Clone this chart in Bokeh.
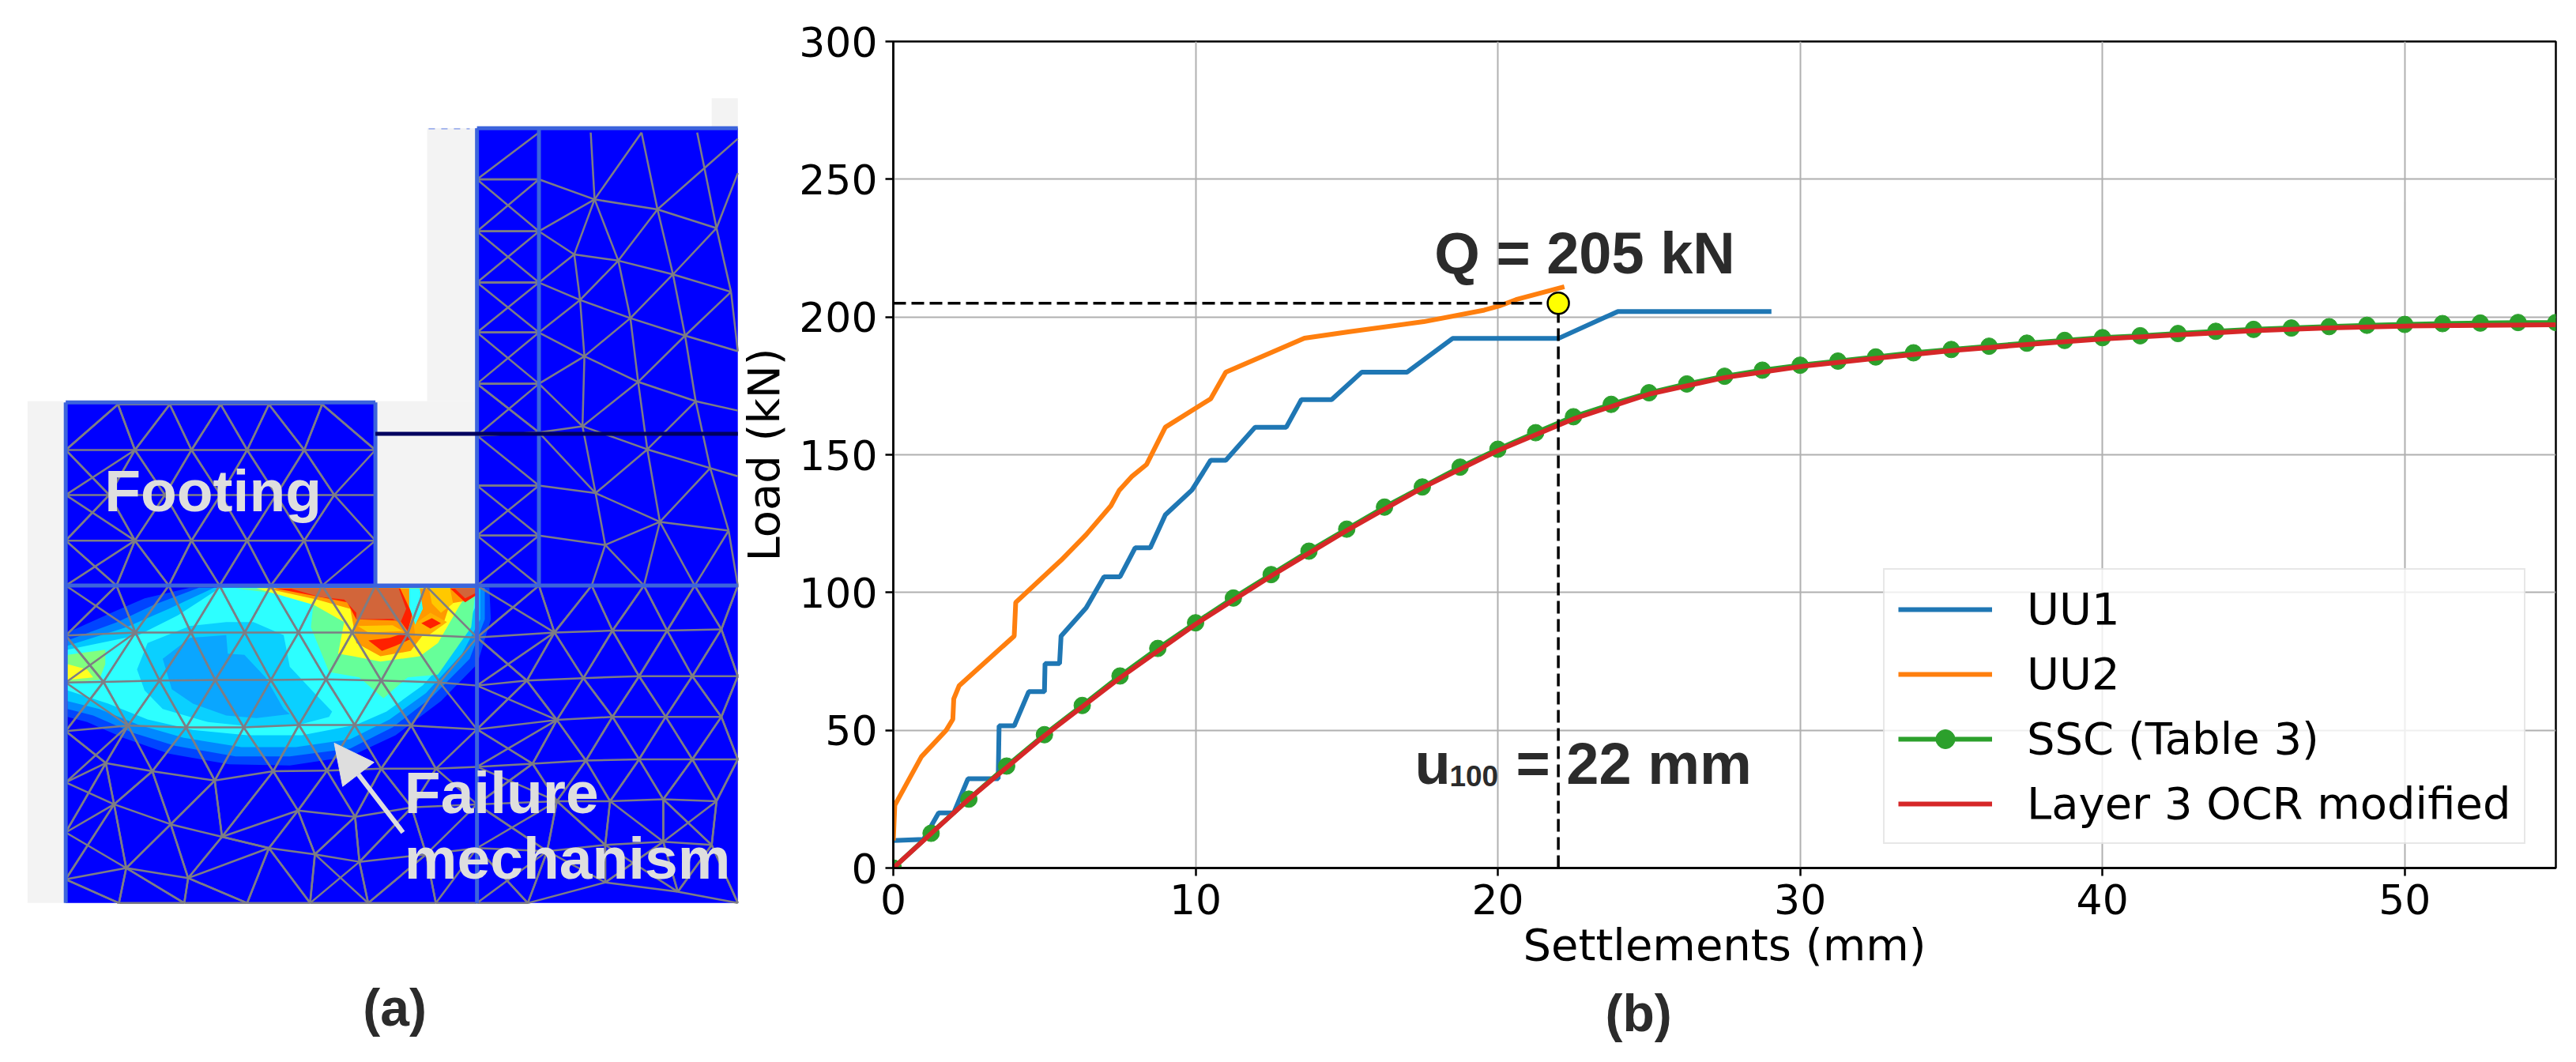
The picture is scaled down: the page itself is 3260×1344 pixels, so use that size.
from bokeh.plotting import figure
from bokeh.models import (Range1d, Legend, LegendItem, Label, Arrow, NormalHead, FixedTicker, Title)
from bokeh.embed import file_html
from bokeh.resources import INLINE

# ---------- panel (b) data ----------
UU1_X = [0,1,1.5,2,2.47,3.47,3.5,4,4.48,5,5.02,5.5,5.55,6.38,6.97,7.5,8,8.5,9,9.88,10.5,11,11.97,13,13.5,14.5,15.5,17,18.5,22,23.97,29.05]
UU1_Y = [10,10.4,20,20,32.4,32.4,51.6,51.6,64,64,74.2,74.2,84.2,94.4,105.7,105.7,116.2,116.2,128.2,137.2,148,148,160,160,170,170,180,180,192.2,192.2,202,202]
UU2_X = [0,0.05,0.93,1.75,1.97,2,2.18,4,4.05,5.55,6.38,7.2,7.47,7.88,8.38,9,10.5,11,13.6,15.05,17.55,19.55,20.05,20.6,22.2]
UU2_Y = [10,22.8,40.4,50,54,61.4,66.2,84.2,96.4,111.7,121,131.5,137,142,146.5,160,170.3,180,192.3,194.6,198.3,202.5,204,206.3,211]
SSC_X = [0,1.25,2.5,3.75,5,6.25,7.5,8.75,10,11.25,12.5,13.75,15,16.25,17.5,18.75,20,21.25,22.5,23.75,25,26.25,27.5,28.75,30,31.25,32.5,33.75,35,36.25,37.5,38.75,40,41.25,42.5,43.75,45,46.25,47.5,48.75,50,51.25,52.5,53.75,55]
SSC_Y = [0,12.6,25,37,48.4,59,69.7,79.7,89,98,106.5,115,123,131,138.3,145.5,152,158,163.8,168.3,172.5,175.7,178.5,180.7,182.5,184,185.5,187,188.2,189.4,190.5,191.5,192.5,193.2,194,194.8,195.5,196,196.5,197,197.3,197.6,197.8,198,198]
OCR_X = [0,2.5,5,7.5,10,12.5,15,17.5,20,22.5,25,27.5,30,32.5,35,37.5,40,42.5,45,47.5,50,52.5,55]
OCR_Y = [0,25,48,69,88.5,106,122.5,138,151.5,163,172,178,182,185,187.8,190,192,193.5,195,196,196.7,197,197.2]
LIMIT_LOAD = 205
LIMIT_SETTLEMENT = 22
X_TICKS = [0,10,20,30,40,50]
Y_TICKS = [0,50,100,150,200,250,300]
SERIES_NAMES = ["UU1","UU2","SSC (Table 3)","Layer 3 OCR modified"]

# ---------- panel (a) schematic, in its own drawing units ----------
GRAY_BLOCKS = [([56,130,130,56],[515,515,1318,1318]),
               ([775,985,985,775],[515,515,810,810]),
               ([882,985,985,882],[78,78,515,515]),
               ([1470,1524,1524,1470],[30,30,78,78])]
BLUE_BLOCKS = [([135,775,775,135],[517,517,810,810]),
               ([135,1524,1524,135],[810,810,1318,1318]),
               ([985,1524,1524,985],[78,78,810,810])]
Z4_FIELDS = [
 ("#0044ff",[(470,130),(320,170),(200,230),(65,300),(65,620),(130,640),(250,700),(400,760),(600,800),(800,805),(1000,770),(1150,690),(1300,560),(1420,420),(1465,250),(1460,130)]),
 ("#0088ff",[(500,130),(350,195),(230,260),(65,330),(65,590),(150,615),(280,680),(420,730),(620,770),(800,770),(1000,740),(1140,660),(1270,545),(1395,400),(1445,250),(1445,130)]),
 ("#00c8ff",[(550,130),(400,210),(260,280),(65,350),(65,560),(170,590),(300,650),(450,700),(640,735),(820,735),(1000,705),(1130,630),(1250,530),(1370,380),(1430,250),(1430,130)]),
 ("#2dffff",[(570,130),(430,235),(300,310),(65,365),(65,520),(200,570),(330,630),(480,670),(660,690),(840,690),(1020,650),(1120,600),(1240,500),(1350,360),(1415,200),(1415,130)]),
 ("#0ad0ff",[(590,260),(470,275),(330,340),(295,440),(320,520),(380,590),(530,640),(700,660),(830,650),(930,620),(940,600),(890,540),(800,430),(780,310),(680,260)]),
 ("#0aa6ff",[(380,400),(470,320),(590,310),(595,380),(650,385),(720,470),(780,590),(800,610),(690,625),(590,615),(480,570),(410,515)]),
 ("#80ff80",[(65,385),(190,365),(190,420),(170,480),(65,490)]),
 ("#ffff20",[(65,420),(130,440),(150,470),(65,480)]),
 ("#66ff99",[(620,132),(880,170),(870,280),(930,450),(1030,470),(1110,550),(1190,470),(1290,460),(1400,280),(1415,132)]),
 ("#ffff20",[(690,132),(880,195),(980,260),(960,380),(1010,390),(1100,410),(1230,390),(1290,340),(1360,200),(1400,132)]),
 ("#ff9900",[(720,132),(890,175),(1000,210),(1010,270),(1020,340),(1100,390),(1200,370),(1240,310),(1310,260),(1330,190),(1380,180),(1415,132)]),
 ("#ff2000",[(750,132),(900,165),(990,185),(1020,250),(1165,255),(1190,295),(1205,230),(1165,132)]),
 ("#ffcc00",[(1025,275),(1140,272),(1175,295),(1060,300)]),
 ("#ff2000",[(1060,330),(1130,320),(1185,300),(1200,325),(1150,350),(1105,370)]),
 ("#ffb000",[(1210,270),(1265,225),(1320,260),(1260,310),(1215,315)]),
 ("#ff2000",[(1235,265),(1270,245),(1300,265),(1265,285)]),
 ("#ff2000",[(1330,132),(1380,185),(1415,160),(1415,132)]),
 ("#d2653a",[(800,132),(900,165),(980,175),(1020,225),(1020,250),(1140,248),(1165,265),(1185,210),(1160,132)]),
 ("#d2653a",[(1345,132),(1380,170),(1415,150),(1415,132)]),
 ("#2dffff",[(1195,132),(1230,132),(1240,210),(1215,270),(1195,200)]),
 ("#ffc800",[(1260,132),(1330,132),(1340,190),(1300,225),(1270,190)]),
]
FOOTING_ROWS = [
 [(243,520),(350,520),(455,520),(555,520),(665,520)],
 [(135,593),(278,593),(395,593),(510,593),(628,593),(775,593)],
 [(135,665),(225,665),(340,665),(455,665),(570,665),(690,665),(775,665)],
 [(135,738),(278,738),(395,738),(510,738),(628,738),(775,738)],
 [(135,810),(240,810),(348,810),(453,810),(559,810),(665,810),(775,810)],
]
SOIL_ROWS = [
 [(135,810),(240,810),(348,810),(453,810),(559,810),(665,810),(775,810),(879,810),(985,810),(1113,810),(1222,810),(1330,810),(1435,810),(1524,810)],
 [(135,890),(279,885),(394,885),(505,885),(616,885),(727,885),(841,888),(985,893),(1145,885),(1265,882),(1378,882),(1490,880)],
 [(135,965),(213,964),(329,962),(444,961),(559,961),(673,960),(787,962),(908,965),(985,970),(1088,962),(1205,958),(1320,955),(1430,955),(1524,955)],
 [(135,1043),(264,1034),(384,1037),(503,1037),(617,1033),(732,1033),(849,1034),(985,1040),(1150,1025),(1265,1020),(1375,1020),(1490,1020)],
 [(135,1125),(218,1094),(314,1107),(443,1122),(564,1107),(675,1106),(787,1103),(900,1103),(985,1100),(1100,1095),(1210,1090),(1320,1088),(1430,1088),(1524,1088)],
 [(135,1205),(235,1160),(352,1192),(458,1212),(615,1170),(733,1180),(850,1165),(985,1160),(1150,1155),(1260,1155),(1370,1152),(1480,1155)],
 [(135,1280),(260,1262),(388,1278),(555,1230),(650,1240),(742,1252),(880,1240),(985,1230),(1130,1235),(1250,1225),(1370,1220),(1470,1225)],
 [(245,1318),(380,1318),(510,1318),(640,1318),(760,1318),(900,1318),(985,1318),(1090,1318),(1250,1285),(1400,1300),(1524,1318)],
]
COLUMN_LEFT = [(985,160),(985,243),(985,325),(985,405),(985,487),(985,570),(985,650),(985,730),(985,810)]
COLUMN_RIGHT = [(1113,85),(1113,160),(1113,243),(1113,325),(1113,405),(1113,487),(1113,565),(1113,650),(1113,730),(1113,810)]
N = dict(A=(1228,192),B=(1358,208),C=(1480,238),D=(1455,142),E=(1186,280),F=(1277,290),G=(1390,312),H=(1510,340),
         I=(1198,353),J=(1302,382),K=(1415,410),L=(1207,443),M=(1318,484),O=(1437,515),P=(1203,555),R=(1337,592),S=(1467,622),
         T=(1230,662),U=(1363,708),V=(1505,722),W=(1250,745),
         a=(1113,85),b=(1220,85),c=(1325,85),d=(1440,85),e=(1524,95),f=(1113,160),g=(1113,243),h=(1113,325),i=(1113,405),j=(1113,487),
         k=(1113,565),l=(1113,650),m=(1113,730),n=(1222,810),o=(1330,810),p=(1435,810),q=(1524,810),
         r=(1524,150),s=(1524,435),t=(1524,530),u=(1524,635))
EDGES = "fA Ab Ac gA gE AE AF AB Bc BD BF BG BC Dd De DC Cr CG CH EF Eh EI FI FJ FG GJ GK GH Hs HK Ih Ii IJ IL JL JM JK KM KO Ks Li Lj LM LP MP MR MO OR OS Ot Pj Pk PR PT RT RU RS SU SV Su Tk Tl TU TW UW UV Uo Up Wm Wn Wo Vp Vq".split()
WALLS = [((135,517),(135,1318)),((775,517),(775,810)),((985,78),(985,1318)),((1113,78),(1113,810)),((135,810),(1524,810)),((135,517),(775,517)),((985,78),(1524,78))]

BOLD = "Liberation Sans"
INK = "#2b2b2b"
LIGHT = "#dedede"

# ---------- panel (a) ----------
a = figure(width=938, height=1344, output_backend="svg", toolbar_location=None,
           x_range=Range1d(0,1531.8), y_range=Range1d(1573,-126.45),
           min_border=0, x_axis_type=None, y_axis_type=None, outline_line_color=None)
a.grid.visible = False
a.patches([b[0] for b in GRAY_BLOCKS],[b[1] for b in GRAY_BLOCKS],fill_color="#f3f3f3",line_color=None)
a.patches([b[0] for b in BLUE_BLOCKS],[b[1] for b in BLUE_BLOCKS],fill_color="#0000ff",line_color=None)
for col,pts in Z4_FIELDS:
    a.patch([98+0.625*x for x,_ in pts],[758.7+0.4215*y for _,y in pts],fill_color=col,line_color=None)

def links(r1,r2,axis=0):
    out=[]
    for s,t in ((r1,r2),(r2,r1)):
        for n in s:
            lo=[m for m in t if m[axis]<=n[axis]]
            hi=[m for m in t if m[axis]>n[axis]]
            if lo: out.append((n,max(lo,key=lambda m:m[axis])))
            if hi: out.append((n,min(hi,key=lambda m:m[axis])))
    return out
segs=[]
for rows in (FOOTING_ROWS,SOIL_ROWS):
    for i,r in enumerate(rows):
        segs+=list(zip(r[:-1],r[1:]))
        if i+1<len(rows): segs+=links(r,rows[i+1])
segs+=links(COLUMN_LEFT,COLUMN_RIGHT,1)
segs+=[(N[e[0]],N[e[1]]) for e in EDGES]
segs+=[((x0,y),(1113,y)) for x0,y in ((985,243),(985,325),(985,405),(985,487))]
a.multi_line([[s[0][0],s[1][0]] for s in segs],[[s[0][1],s[1][1]] for s in segs],line_color="#7d7d85",line_width=2.5)
a.multi_line([[s[0][0],s[1][0]] for s in WALLS],[[s[0][1],s[1][1]] for s in WALLS],line_color="#3c64dc",line_width=5)
a.line([775,1524],[567,567],line_color="#00005f",line_width=5)
a.line([885,970],[79,79],line_color="#a8b8ee",line_width=2,line_dash=[8,8])
a.add_layout(Arrow(end=NormalHead(size=50,fill_color=LIGHT,line_color=LIGHT),x_start=832,y_start=1205,x_end=690,y_end=1062,line_color=LIGHT,line_width=6))
for txt,x,y in (("Footing",215,658),("Failure",835,1141),("mechanism",835,1246)):
    a.add_layout(Label(x=x,y=y,text=txt,text_font=BOLD,text_font_style="bold",text_font_size="75px",text_color=LIGHT,text_baseline="alphabetic"))
a.add_layout(Label(x=815,y=1485,text="(a)",text_font=BOLD,text_font_style="bold",text_font_size="66px",text_color=INK,text_align="center",text_baseline="middle"))

# ---------- panel (b) ----------
p = figure(width=2360, height=1344, output_backend="svg", toolbar_location=None,
           x_range=Range1d(0,55), y_range=Range1d(0,300),
           min_border_left=230, min_border_right=26, min_border_top=52, min_border_bottom=246,
           x_axis_label="Settlements (mm)", y_axis_label="Load (kN)")
p.styles = {"position":"absolute","left":"900px","top":"0px"}
p.border_fill_color = None
p.outline_line_color="black"; p.outline_line_width=2.5
p.xaxis.ticker=FixedTicker(ticks=X_TICKS); p.yaxis.ticker=FixedTicker(ticks=Y_TICKS)
for ax in (p.xaxis[0],p.yaxis[0]):
    ax.axis_line_color="black"; ax.axis_line_width=2.5
    ax.major_tick_line_color="black"; ax.major_tick_line_width=2.5
    ax.major_tick_out=10; ax.major_tick_in=0
    ax.minor_tick_line_color=None
    ax.major_label_text_font="DejaVu Sans"; ax.major_label_text_font_size="52px"; ax.major_label_text_color="black"
    ax.axis_label_text_font="DejaVu Sans"; ax.axis_label_text_font_size="56px"; ax.axis_label_text_font_style="normal"; ax.axis_label_text_color="black"
p.xaxis.major_label_standoff=10; p.yaxis.major_label_standoff=10
p.xaxis.axis_label_standoff=3; p.yaxis.axis_label_standoff=9
p.grid.grid_line_color="#b0b0b0"; p.grid.grid_line_width=2

r1=p.line(UU1_X,UU1_Y,line_color="#1f77b4",line_width=6)
r2=p.line(UU2_X,UU2_Y,line_color="#ff7f0e",line_width=6)
r3=p.line(SSC_X,SSC_Y,line_color="#2ca02c",line_width=6)
r3m=p.scatter(SSC_X,SSC_Y,size=21,marker="circle",fill_color="#2ca02c",line_color="#2ca02c")
r4=p.line(OCR_X,OCR_Y,line_color="#d62728",line_width=6)
p.line([0,LIMIT_SETTLEMENT],[LIMIT_LOAD,LIMIT_LOAD],line_color="black",line_width=3.5,line_dash=[16,7])
p.line([LIMIT_SETTLEMENT,LIMIT_SETTLEMENT],[0,LIMIT_LOAD],line_color="black",line_width=3.5,line_dash=[16,7])
p.scatter([LIMIT_SETTLEMENT],[LIMIT_LOAD],size=27,marker="circle",fill_color="#ffff00",line_color="black",line_width=2.5)

legend=Legend(items=[LegendItem(label=SERIES_NAMES[0],renderers=[r1]),LegendItem(label=SERIES_NAMES[1],renderers=[r2]),
                     LegendItem(label=SERIES_NAMES[2],renderers=[r3,r3m]),LegendItem(label=SERIES_NAMES[3],renderers=[r4])],
              location=(1253,30),glyph_width=119,glyph_height=60,label_height=60,spacing=17,label_standoff=44,padding=17,margin=0,
              label_text_font="DejaVu Sans",label_text_font_size="56px",label_text_color="black",
              background_fill_alpha=0.8,border_line_color="#d0d0d0",border_line_width=2.5)
p.add_layout(legend)

def note(x,y,t,size,align="left"):
    p.add_layout(Label(x=x,y=y,text=t,text_font=BOLD,text_font_style="bold",text_font_size=size,text_color=INK,text_align=align,text_baseline="alphabetic"))
note(17.9,223,"Q = 205 kN","74px")
note(17.25,37.8,"u","74px")
note(18.4,33.3,"100","37px")
note(20.6,37.8,"= 22 mm","74px")
p.add_layout(Title(text="(b)",align="left",offset=901,standoff=24,text_font=BOLD,text_font_style="bold",text_font_size="66px",text_color=INK),"below")

open("out.html","w").write(file_html([a,p],INLINE))
